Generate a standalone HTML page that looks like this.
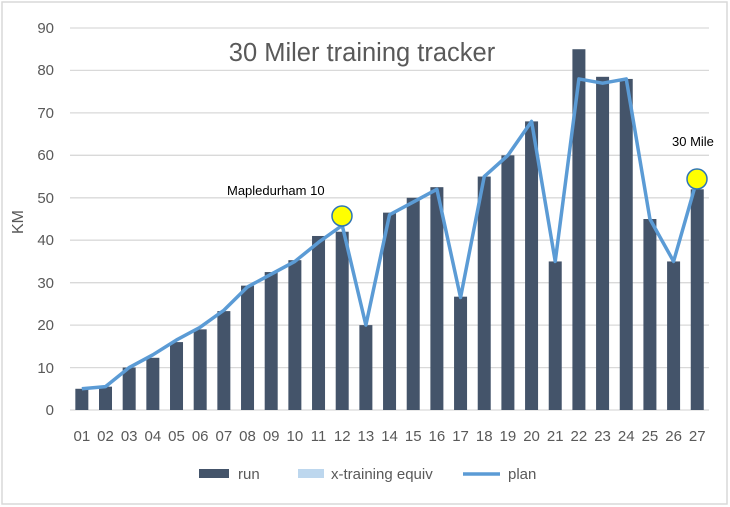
<!DOCTYPE html>
<html><head><meta charset="utf-8"><style>body{margin:0;background:#fff}svg{display:block}</style></head><body>
<svg width="730" height="507" viewBox="0 0 730 507" xmlns="http://www.w3.org/2000/svg" font-family="Liberation Sans, sans-serif">
<rect x="2" y="2" width="725" height="502" fill="#fff" stroke="#d9d9d9" stroke-width="1.5"/>
<g stroke="#d9d9d9" stroke-width="1.3">
<line x1="70" x2="709" y1="28" y2="28"/><line x1="70" x2="709" y1="70.4" y2="70.4"/><line x1="70" x2="709" y1="112.9" y2="112.9"/><line x1="70" x2="709" y1="155.3" y2="155.3"/><line x1="70" x2="709" y1="197.8" y2="197.8"/><line x1="70" x2="709" y1="240.2" y2="240.2"/><line x1="70" x2="709" y1="282.7" y2="282.7"/><line x1="70" x2="709" y1="325.1" y2="325.1"/><line x1="70" x2="709" y1="367.6" y2="367.6"/><line x1="70" x2="709" y1="410" y2="410"/>
</g>
<g fill="#595959" font-size="15" text-anchor="end">
<text x="54" y="33">90</text><text x="54" y="75">80</text><text x="54" y="118">70</text><text x="54" y="160">60</text><text x="54" y="203">50</text><text x="54" y="245">40</text><text x="54" y="288">30</text><text x="54" y="330">20</text><text x="54" y="373">10</text><text x="54" y="415">0</text>
</g>
<text transform="translate(23,222) rotate(-90)" fill="#595959" font-size="16" text-anchor="middle">KM</text>
<text x="362" y="61" fill="#595959" font-size="25.5" text-anchor="middle">30 Miler training tracker</text>
<g id="bars" fill="#44546a"></g>
<polyline id="plan" fill="none" stroke="#5b9bd5" stroke-width="3.5" stroke-linejoin="round"/>
<circle cx="342" cy="216" r="10" fill="#ffff00" stroke="#2e75b6" stroke-width="1.5"/>
<circle cx="697" cy="179" r="10" fill="#ffff00" stroke="#2e75b6" stroke-width="1.5"/>
<text x="227" y="195" font-size="13" fill="#000">Mapledurham 10</text>
<text x="672" y="146" font-size="13" fill="#000">30 Mile</text>
<g id="xl" fill="#595959" font-size="15" text-anchor="middle"></g>
<rect x="199" y="469" width="30" height="9" fill="#44546a"/>
<text x="238" y="479" font-size="15" fill="#595959">run</text>
<rect x="298" y="469" width="26" height="9" fill="#bdd7ee"/>
<text x="331" y="479" font-size="15" fill="#595959">x-training equiv</text>
<line x1="463" x2="500" y1="474" y2="474" stroke="#5b9bd5" stroke-width="3.5"/>
<text x="508" y="479" font-size="15" fill="#595959">plan</text>
<script>
var run=[5,5.5,10,12.3,16,19,23.3,29.3,32.5,35.3,41,42,20,46.5,50,52.5,26.7,55,60,68,35,85,78.5,78,45,35,52];
var plan=[5,5.5,10,13,16.5,19.5,23.5,29,32,35,39.5,43.5,20,46,49,52,26.5,55,60,68,35,78,77,78,45,35,54.5];
var s=(410-28)/90,b=document.getElementById('bars'),x=document.getElementById('xl'),p=[],ns='http://www.w3.org/2000/svg';
for(var i=0;i<27;i++){var c=70+23.67*(i+0.5);
var r=document.createElementNS(ns,'rect');r.setAttribute('x',c-6.5);r.setAttribute('width',13);r.setAttribute('y',410-run[i]*s);r.setAttribute('height',run[i]*s);b.appendChild(r);
var t=document.createElementNS(ns,'text');t.setAttribute('x',c);t.setAttribute('y',441);t.textContent=(i<9?'0':'')+(i+1);x.appendChild(t);
p.push(c+','+(410-plan[i]*s));}
document.getElementById('plan').setAttribute('points',p.join(' '));
</script>
</svg>
</body></html>
